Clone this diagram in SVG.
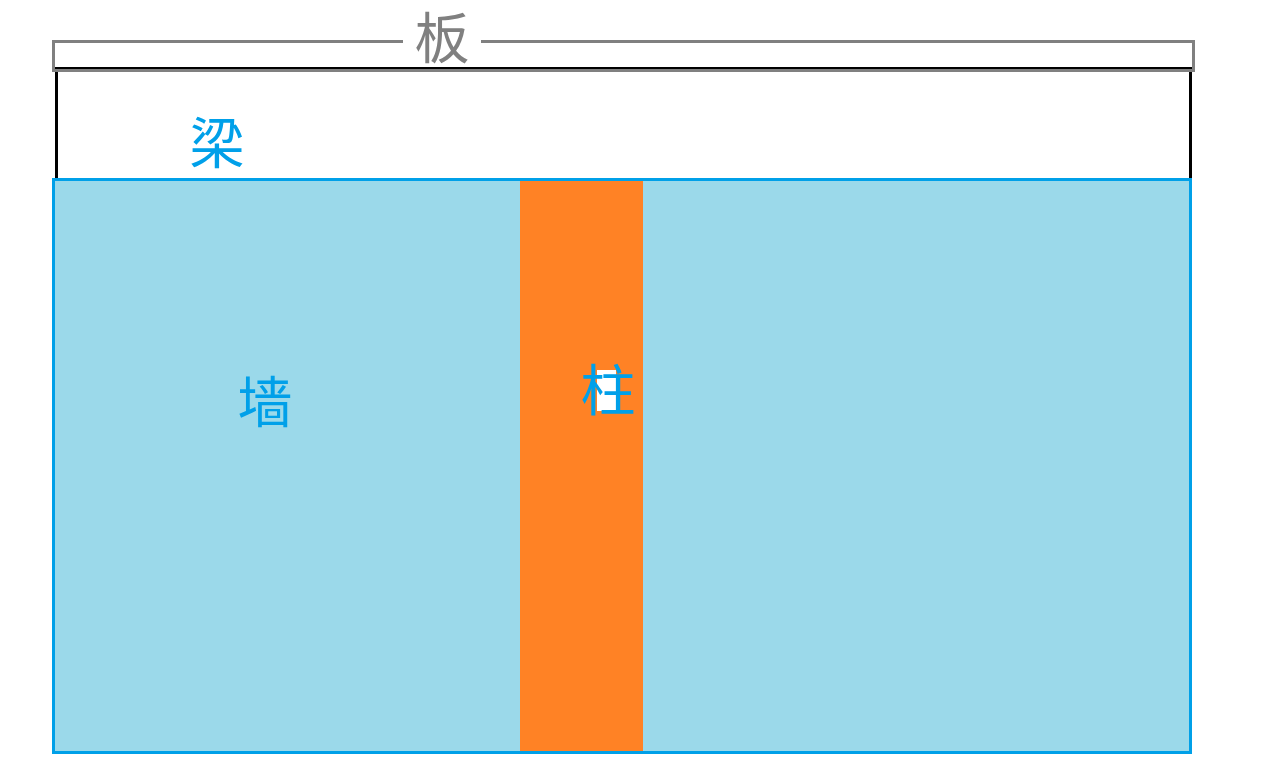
<svg xmlns="http://www.w3.org/2000/svg" width="1274" height="763" viewBox="0 0 1274 763">
<style>
.lbl{font-family:"Noto Sans CJK SC","Noto Sans CJK JP",sans-serif;font-size:55px;text-anchor:middle;dominant-baseline:central}
.blue{fill:#00A0E9}
.gray{fill:#808080}
</style>
<rect width="1274" height="763" fill="#ffffff"/>
<g id="beam">
<rect x="56.5" y="68.5" width="1134" height="112" fill="#ffffff" stroke="#000000" stroke-width="3"/>
<text class="lbl blue" x="217" y="139">梁</text>
</g>
<g id="plate">
<rect x="53.5" y="41.5" width="1140" height="29" fill="none" stroke="#808080" stroke-width="3"/>
<rect x="403" y="36" width="78" height="10" fill="#ffffff"/>
<text class="lbl gray" x="442" y="34">板</text>
</g>
<g id="wall">
<rect x="53.5" y="179.5" width="1137" height="573" fill="#9BD9EA" stroke="#00A0E8" stroke-width="3"/>
<text class="lbl blue" x="265" y="398">墙</text>
</g>
<g id="column">
<rect x="520" y="181" width="123" height="570" fill="#FF8225"/>
<rect x="597" y="370" width="19" height="41" fill="#ffffff"/>
<text class="lbl blue" x="608" y="386">柱</text>
</g>
<g id="connectors"></g>
</svg>
